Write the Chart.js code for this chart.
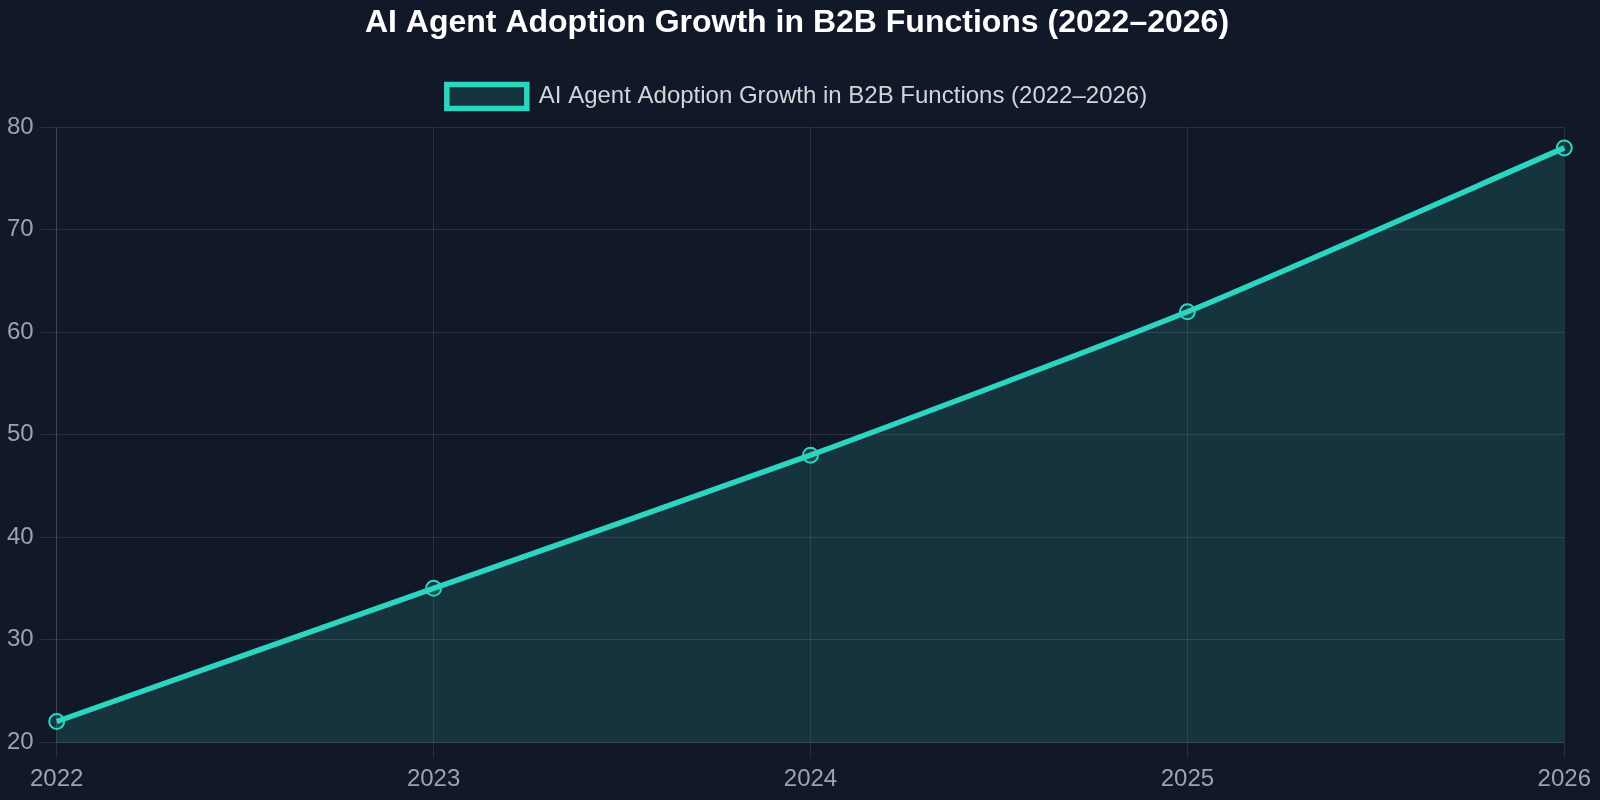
<!DOCTYPE html>
<html>
<head>
<meta charset="utf-8">
<script src="https://cdn.jsdelivr.net/npm/chart.js@4"></script>
<style>
  html, body { margin: 0; padding: 0; background: #111827; }
  #wrap { width: 1600px; height: 800px; }
</style>
</head>
<body>
<div id="wrap"><canvas id="grafico"></canvas></div>
<script>
const titulo = 'AI Agent Adoption Growth in B2B Functions (2022–2026)';
const anios = ['2022', '2023', '2024', '2025', '2026'];
const adopcion = [22, 35, 48, 62, 78];

const teal = '#2dd4bf';
const tealSuave = 'rgba(45, 212, 191, 0.15)';
const rejilla = 'rgba(255, 255, 255, 0.1)';

Chart.defaults.font.family = '"Liberation Sans", Arial, sans-serif';

// un poco de aire entre la leyenda y el area del grafico
const espacioLeyenda = {
    id: 'espacioLeyenda',
    beforeInit(chart) {
        const fitOriginal = chart.legend.fit;
        chart.legend.fit = function () {
            fitOriginal.bind(chart.legend)();
            this.height += 9;
        };
    }
};

new Chart(document.getElementById('grafico'), {
    type: 'line',
    data: {
        labels: anios,
        datasets: [{
            label: titulo,
            data: adopcion,
            borderColor: teal,
            backgroundColor: tealSuave,
            fill: true,
            borderWidth: 5.5,
            tension: 0.2,
            pointRadius: 7.5,
            pointBorderWidth: 2,
            pointBackgroundColor: tealSuave,
            pointBorderColor: teal
        }]
    },
    options: {
        responsive: true,
        maintainAspectRatio: false,
        animation: false,
        layout: { padding: { left: 0, right: 6, bottom: 0 } },
        plugins: {
            title: {
                display: true,
                text: titulo,
                color: '#ffffff',
                font: { size: 32, weight: 'bold' },
                padding: { top: 4, bottom: 23 }
            },
            legend: {
                display: true,
                labels: {
                    color: '#d1d5db',
                    font: { size: 24 },
                    boxWidth: 80,
                    boxHeight: 24,
                    padding: 19
                }
            }
        },
        scales: {
            x: {
                grid: { color: rejilla, tickLength: 16 },
                border: { color: rejilla },
                ticks: { color: '#9ca3af', font: { size: 24, lineHeight: 1 }, padding: 9 }
            },
            y: {
                min: 20,
                max: 80,
                grid: { color: rejilla, tickLength: 16 },
                border: { color: rejilla },
                ticks: { color: '#9ca3af', font: { size: 24 }, padding: 7, stepSize: 10 }
            }
        }
    },
    plugins: [espacioLeyenda]
});
</script>
</body>
</html>
